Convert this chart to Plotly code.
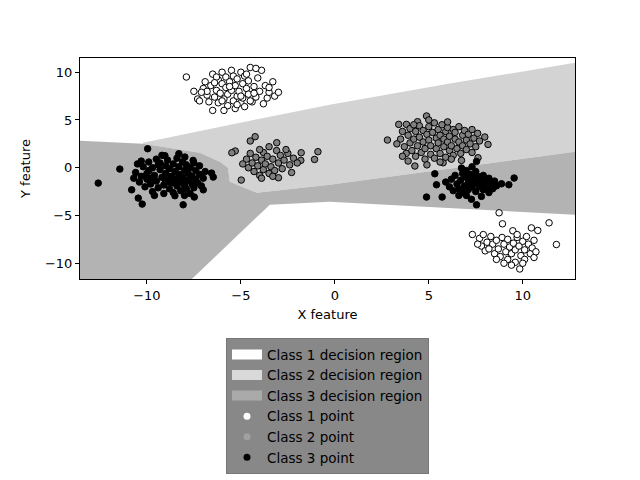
import plotly.graph_objects as go

# ---------------- data ----------------
# Class 1 points (white)
c1_x = [-7.9, -7.5, -7.3, -7.2, -7.0, -6.9, -6.8, -6.7, -6.6, -6.5, -6.5, -6.4, -6.3, -6.2, -6.2, -6.1, -6.0,
        -6.0, -5.9, -5.8, -5.8, -5.7, -5.7, -5.6, -5.5, -5.5, -5.4, -5.4, -5.3, -5.3, -5.2, -5.2, -5.1, -5.0,
        -5.0, -4.9, -4.9, -4.8, -4.8, -4.7, -4.6, -4.6, -4.5, -4.4, -4.3, -4.2, -4.1, -4.0, -3.9, -3.8, -3.7,
        -3.6, -3.5, -3.3, -3.2, -3.0, -6.8, -6.3, -5.9, -4.5, -4.2, -7.1, -6.0, -5.0, -5.6, -4.7, -3.5, -5.2,
        -6.4, -4.3,
        8.74, 8.92, 11.4, 7.32, 11.79, 9.84, 10.46, 10.8, 9.47, 7.7, 7.9, 8.1, 7.8, 8.0, 8.3, 8.4, 8.5, 8.6,
        8.7, 8.8, 8.9, 9.0, 9.1, 9.2, 9.2, 9.3, 9.4, 9.5, 9.6, 9.6, 9.7, 9.8, 9.9, 10.0, 10.1, 10.1, 10.2,
        10.3, 10.4, 10.5, 10.6, 10.6, 10.7, 8.2, 9.0, 9.4, 8.6, 10.0, 7.6, 9.7]
c1_y = [9.5, 8.0, 7.2, 7.0, 8.3, 9.0, 7.6, 6.9, 8.6, 9.8, 6.0, 7.4, 8.1, 9.2, 6.8, 7.8, 8.8,
        10.0, 7.2, 8.4, 9.5, 6.5, 7.7, 9.0, 8.1, 10.2, 7.0, 9.6, 8.6, 6.2, 7.5, 9.3, 8.0, 6.8,
        10.0, 8.8, 7.3, 9.6, 6.4, 8.3, 7.7, 9.1, 10.5, 6.9, 8.5, 7.4, 9.4, 8.0, 10.2, 6.7, 8.6,
        7.3, 7.9, 9.0, 7.5, 7.9, 8.0, 9.5, 6.0, 7.0, 10.4, 7.9, 7.0, 7.5, 8.5, 9.8, 8.4, 6.6,
        8.9, 7.8,
        -4.72, -5.87, -5.77, -6.99, -8.04, -10.6, -6.3, -6.57, -6.6, -7.4, -7.0, -7.8, -8.2, -8.7, -7.2, -8.0,
        -9.0, -7.6, -8.5, -9.3, -7.3, -8.0, -8.8, -9.6, -7.5, -8.3, -9.0, -7.9, -8.6, -9.9, -7.3, -8.2, -9.2,
        -7.7, -8.6, -9.6, -7.2, -8.0, -9.0, -8.4, -7.6, -9.4, -8.8, -8.5, -10.0, -10.2, -9.6, -10.0, -8.0, -7.0]

# Class 2 points (gray)
c2_x = [-4.24, -5.3, -5.48, -4.98, -0.9, -1.08, -1.79, -1.81, -3.09, -4.5, -3.0, -4.9, -4.7, -4.6, -4.5, -4.4,
        -4.3, -4.2, -4.1, -4.0, -3.9, -3.8, -3.8, -3.7, -3.6, -3.5, -3.4, -3.3, -3.2, -3.1, -3.0, -2.9, -2.8,
        -2.7, -2.5, -2.4, -2.3, -2.2, -3.5, -4.0, -2.6, -3.3, -3.9, -2.0,
        2.8, 4.88, 3.4, 3.81, 4.4, 8.15, 7.98, 7.62, 4.26, 3.9, 6.74, 5.76, 3.5, 3.6, 3.7, 3.8, 3.9, 4.0,
        4.0, 4.1, 4.2, 4.3, 4.3, 4.4, 4.5, 4.5, 4.6, 4.7, 4.7, 4.8, 4.8, 4.9, 5.0, 5.0, 5.1, 5.1, 5.2, 5.3,
        5.3, 5.4, 5.4, 5.5, 5.5, 5.6, 5.6, 5.7, 5.8, 5.8, 5.9, 5.9, 6.0, 6.0, 6.1, 6.1, 6.2, 6.3, 6.3, 6.4,
        6.4, 6.5, 6.6, 6.6, 6.7, 6.8, 6.8, 6.9, 7.0, 7.0, 7.1, 7.2, 7.3, 7.3, 7.4, 7.5, 7.6, 7.7, 4.9, 5.6,
        6.2, 4.2, 5.0, 6.0, 3.3, 3.6]
c2_y = [3.25, 1.75, 1.57, -1.29, 1.68, 0.87, 1.57, 0.77, 2.62, 2.8, -1.05, 0.4, 0.9, 0.0, 1.5, 0.5,
        -0.4, 1.1, 0.2, -0.8, 0.8, 1.6, -0.2, 0.4, 1.2, -0.6, 0.1, 0.9, -0.3, 1.8, 0.5, 1.3, -0.1,
        0.8, 1.5, 0.3, -0.5, 1.0, 2.2, 1.9, 1.9, -0.9, -1.1, 0.5,
        2.9, 5.42, 4.54, 4.54, 4.82, 2.44, 3.22, 1.05, 0.18, 0.7, 0.77, 0.52, 3.0, 3.8, 2.2, 1.5, 3.4, 2.6,
        4.1, 1.8, 3.0, 3.8, 1.2, 2.3, 4.4, 3.2, 1.6, 2.7, 3.9, 0.9, 2.0, 3.5, 4.3, 2.9, 1.4, 2.3, 3.7, 4.7,
        1.0, 3.1, 2.0, 4.0, 2.6, 1.5, 3.4, 4.5, 2.2, 3.0, 1.1, 3.8, 2.7, 4.2, 1.8, 3.3, 2.3, 4.0, 1.3, 3.0,
        3.7, 2.0, 2.7, 4.3, 1.5, 3.4, 2.3, 3.9, 2.9, 1.9, 3.5, 2.5, 4.0, 1.6, 3.1, 2.2, 3.6, 2.8, 0.3, 0.6,
        0.9, 4.5, 5.0, 4.8, 2.5, 1.2]

# Class 3 points (black)
c3_x = [-12.59, -11.44, -9.96, -8.07, -10.25, -10.46, -6.56, -6.47, -9.04, -8.3, -7.98, -7.54, -10.81, -7.0,
        -7.48, -8.51, -10.6, -10.5, -10.4, -10.3, -10.2, -10.1, -10.0, -9.9, -9.9, -9.8, -9.7, -9.7, -9.6,
        -9.5, -9.5, -9.4, -9.3, -9.3, -9.2, -9.1, -9.1, -9.0, -9.0, -8.9, -8.9, -8.8, -8.8, -8.7, -8.7, -8.6,
        -8.6, -8.5, -8.5, -8.4, -8.4, -8.3, -8.3, -8.2, -8.2, -8.1, -8.1, -8.0, -8.0, -7.9, -7.9, -7.8, -7.8,
        -7.7, -7.7, -7.6, -7.6, -7.5, -7.5, -7.4, -7.4, -7.3, -7.2, -7.2, -7.1, -7.0, -6.9, -10.3, -10.7, -9.6,
        -9.2, -8.0, -9.4, -8.6, -9.0, -8.3, -7.9, -10.0, -9.8,
        5.32, 4.88, 5.71, 7.54, 9.54, 9.26, 6.74, 7.54, 5.41, 8.87, 7.27, 5.9, 6.1, 6.2, 6.3, 6.4, 6.5, 6.6,
        6.7, 6.8, 6.8, 6.9, 7.0, 7.0, 7.1, 7.1, 7.2, 7.2, 7.3, 7.3, 7.4, 7.4, 7.5, 7.5, 7.6, 7.6, 7.7, 7.7,
        7.8, 7.9, 7.9, 8.0, 8.1, 8.2, 8.3, 8.4, 8.5, 8.6, 8.2, 7.0, 6.6, 7.8]
c3_y = [-1.61, -0.14, 1.99, -3.88, -3.81, -3.18, -0.56, -0.98, 1.26, 1.47, 1.12, 0.77, -2.31, -2.31,
        -3.07, -2.93, -0.5, 0.4, -1.5, -0.9, 0.1, -2.0, -1.2, 0.6, -0.3, -1.7, -2.5, 0.0, -0.8,
        0.9, -1.4, -2.1, -0.2, 0.5, -1.0, -1.8, -2.7, 0.2, -0.6, -1.3, 0.8, -2.2, -0.1, -1.6, -0.9, 0.4,
        -2.6, -0.4, -1.2, -1.9, 1.0, 0.1, -0.7, -1.5, -2.4, 0.6, -1.0, -0.3, -1.8, -2.2, 0.3, -0.6, -1.3,
        -2.7, 0.0, -1.7, -0.9, 0.5, -2.1, -0.3, -1.2, -1.6, -0.7, 0.2, -1.9, -1.1, -0.4, 0.7, -1.1, -2.9,
        1.3, -2.9, 0.3, -1.5, -1.5, -1.1, -1.4, -0.6, -1.1,
        -0.63, -3.07, -3.07, -3.88, -1.08, -1.78, -0.03, 0.66, -1.78, -1.68, -3.3, -1.5, -2.0, -1.2, -2.4,
        -0.8, -1.7, -2.2, -1.3, -0.6, -2.6, -1.9, -1.0, -0.3, -1.6, -2.3, -0.7, -1.3, -2.0, 0.1, -1.0, -1.7,
        -0.4, -2.5, -1.4, -0.9, -2.0, -1.2, -1.7, -2.3, -0.8, -1.4, -2.0, -1.1, -1.7, -2.2, -1.4, -1.9, -2.6,
        -2.9, -2.9, -3.0]

# Decision boundaries (data units)
# upper boundary: class 1 (above) vs class 2 / class 3
upper_x = [-13.56, -10.21, -7.18, -3.99, -0.27, 6.12, 12.78]
upper_y = [2.83, 2.62, 3.88, 5.14, 6.60, 8.81, 11.0]
# boundary class 2 (above) vs class 3 (below)
mid_x = [-10.21, -7.18, -6.12, -5.69, -5.59, -4.15, -0.27, 12.78]
mid_y = [2.51, 1.57, 0.63, 0.0, -1.47, -2.62, -1.78, 1.68]
# boundary class 3 (above) vs class 1 (below)
lower_x = [-7.61, -3.46, -0.27, 12.78]
lower_y = [-11.65, -3.87, -3.56, -4.92]

x_range = [-13.56, 12.78]
y_range = [-11.65, 11.49]

region_names = ["Class 1 decision region", "Class 2 decision region", "Class 3 decision region"]
region_colors = ["#ffffff", "#d3d3d3", "#b3b3b3"]
legend_region_colors = ["#ffffff", "#d9d9d9", "#aaaaaa"]
point_names = ["Class 1 point", "Class 2 point", "Class 3 point"]
point_colors = ["#ffffff", "#808080", "#000000"]
legend_point_colors = ["#ffffff", "#a0a0a0", "#000000"]

# ---------------- figure ----------------
fig = go.Figure()

# Class 1 region: whole plotting area (background)
fig.add_trace(go.Scatter(
    x=[x_range[0], x_range[1], x_range[1], x_range[0], x_range[0]],
    y=[y_range[0], y_range[0], y_range[1], y_range[1], y_range[0]],
    fill="toself", fillcolor=region_colors[0], mode="lines", line=dict(width=0, color=region_colors[0]),
    showlegend=False, hoverinfo="skip"))

# Class 2 region: between upper boundary and mid boundary
c2_poly_x = upper_x[1:] + mid_x[::-1]
c2_poly_y = upper_y[1:] + mid_y[::-1]
fig.add_trace(go.Scatter(
    x=c2_poly_x + [c2_poly_x[0]], y=c2_poly_y + [c2_poly_y[0]],
    fill="toself", fillcolor=region_colors[1], mode="lines", line=dict(width=0, color=region_colors[1]),
    showlegend=False, hoverinfo="skip"))

# Class 3 region
c3_poly_x = upper_x[:1] + mid_x + lower_x[::-1] + [x_range[0]]
c3_poly_y = upper_y[:1] + mid_y + lower_y[::-1] + [y_range[0]]
fig.add_trace(go.Scatter(
    x=c3_poly_x + [c3_poly_x[0]], y=c3_poly_y + [c3_poly_y[0]],
    fill="toself", fillcolor=region_colors[2], mode="lines", line=dict(width=0, color=region_colors[2]),
    showlegend=False, hoverinfo="skip"))

# points
for xs, ys, col in [(c1_x, c1_y, point_colors[0]), (c2_x, c2_y, point_colors[1]), (c3_x, c3_y, point_colors[2])]:
    fig.add_trace(go.Scatter(x=xs, y=ys, mode="markers", showlegend=False, hoverinfo="skip",
                             marker=dict(size=6.5, color=col, line=dict(color="black", width=1))))

# legend-only entries
for name, col in zip(region_names, legend_region_colors):
    fig.add_trace(go.Scatter(x=[None], y=[None], mode="lines", name=name,
                             line=dict(width=10, color=col)))
for name, col in zip(point_names, legend_point_colors):
    fig.add_trace(go.Scatter(x=[None], y=[None], mode="markers", name=name,
                             marker=dict(size=7, color=col, line=dict(width=0))))

axis_common = dict(showline=True, linecolor="black", linewidth=1, mirror=True, ticks="outside",
                   ticklen=4, tickcolor="black", showgrid=False, zeroline=False,
                   tickfont=dict(family="DejaVu Sans", size=13, color="black"))

fig.update_layout(
    width=640, height=480,
    margin=dict(l=80, r=65, t=58, b=201, autoexpand=False),
    plot_bgcolor="white", paper_bgcolor="white",
    font=dict(family="DejaVu Sans", size=13, color="black"),
    xaxis=dict(range=x_range, tickvals=[-10, -5, 0, 5, 10],
               title=dict(text="X feature", standoff=8, font=dict(size=13, color="black")), **axis_common),
    yaxis=dict(range=y_range, tickvals=[-10, -5, 0, 5, 10],
               title=dict(text="Y feature", standoff=11, font=dict(size=13, color="black")), **axis_common),
    legend=dict(x=0.5, xanchor="center", y=-0.268, yanchor="top",
                bgcolor="#888888", bordercolor="#777777", borderwidth=1,
                font=dict(family="DejaVu Sans", size=13.5, color="black")),
    showlegend=True,
)

fig.write_html("out.html")
